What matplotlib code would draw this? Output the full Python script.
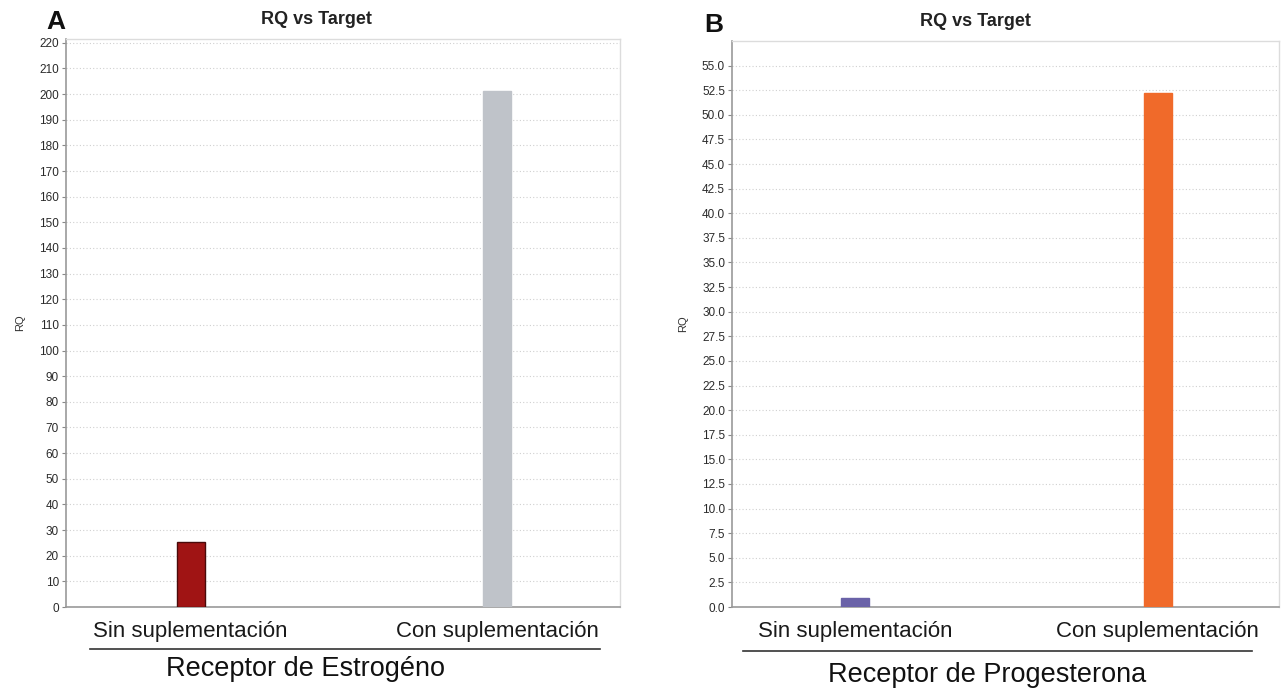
import matplotlib.pyplot as plt
from matplotlib.lines import Line2D

plt.rcParams['font.family'] = ['Liberation Sans', 'DejaVu Sans']

# datos
grupos = ["Sin suplementación", "Con suplementación"]
rq_estrogeno = [25.5, 201.2]
rq_progesterona = [0.9, 52.2]
ticks_a = list(range(0, 230, 10))
ticks_b = [i * 2.5 for i in range(23)]

W, H = 1282, 690
fig = plt.figure(figsize=(W / 100, H / 100), dpi=100)


def px(x0, y0, x1, y1):
    return [x0 / W, 1 - y1 / H, (x1 - x0) / W, (y1 - y0) / H]


def panel(rect, valores, colores, bordes, ticks, ymax, fmt):
    ax = fig.add_axes(rect)
    x = list(range(len(grupos)))
    ax.bar(x, valores, width=0.092, color=colores, edgecolor=bordes, linewidth=1, zorder=3)
    ax.set_xlim(-0.407, 1.401)
    ax.set_ylim(0, ymax)
    ax.set_yticks(ticks)
    ax.set_yticklabels([fmt.format(t) for t in ticks], fontsize=8.5, color="#2a2a2a")
    ax.set_xticks(x)
    ax.set_xticklabels(grupos, fontsize=16, color="#1a1a1a")
    ax.tick_params(axis="x", length=0, pad=10)
    ax.tick_params(axis="y", length=3, width=0.8, color="#888888", pad=2)
    ax.grid(axis="y", linestyle=(0, (1, 2)), color="#d0d0d0", linewidth=0.8, zorder=0)
    for s in ["left", "bottom"]:
        ax.spines[s].set_color("#999999")
        ax.spines[s].set_linewidth(1.2)
    for s in ["top", "right"]:
        ax.spines[s].set_color("#dcdcdc")
        ax.spines[s].set_linewidth(1.0)
    ax.set_ylabel("RQ", fontsize=8, color="#333333", labelpad=10)
    return ax


ax1 = panel(px(66, 39, 620, 607), rq_estrogeno, ["#a01414", "#bfc3c9"],
            ["#4a0a0a", "#bfc3c9"], ticks_a, 221.5, "{:d}")
ax2 = panel(px(732, 41, 1279, 607), rq_progesterona, ["#6a62a8", "#f06a2a"],
            ["#6a62a8", "#f06a2a"], ticks_b, 57.5, "{:.1f}")

# titulos y letras
fig.text(316 / W, 1 - 20 / H, "RQ vs Target", fontsize=13, fontweight="bold",
         ha="center", va="center", color="#222222")
fig.text(975 / W, 1 - 22 / H, "RQ vs Target", fontsize=13, fontweight="bold",
         ha="center", va="center", color="#222222")
fig.text(56 / W, 1 - 22 / H, "A", fontsize=19, fontweight="bold",
         ha="center", va="center", color="#111111")
fig.text(714 / W, 1 - 25 / H, "B", fontsize=19, fontweight="bold",
         ha="center", va="center", color="#111111")

# lineas y etiquetas inferiores
fig.add_artist(Line2D([90 / W, 600 / W], [1 - 649 / H, 1 - 649 / H], color="#333333", linewidth=1.2))
fig.add_artist(Line2D([743 / W, 1252 / W], [1 - 651 / H, 1 - 651 / H], color="#333333", linewidth=1.2))
fig.text(305 / W, 1 - 669 / H, "Receptor de Estrogéno", fontsize=19.5,
         ha="center", va="center", color="#111111")
fig.text(987 / W, 1 - 675 / H, "Receptor de Progesterona", fontsize=19.5,
         ha="center", va="center", color="#111111")

plt.savefig("out.png", dpi=100)
